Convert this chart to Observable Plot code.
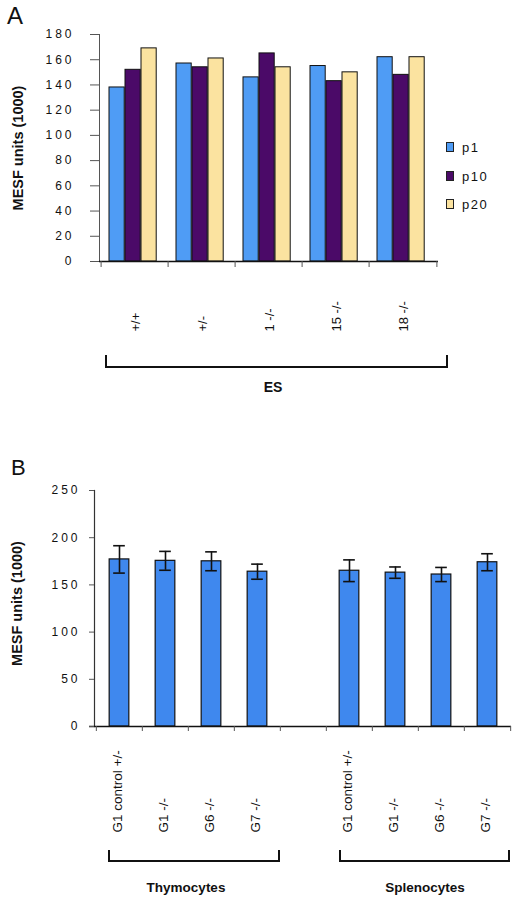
<!DOCTYPE html>
<html><head><meta charset="utf-8">
<script src="https://cdn.jsdelivr.net/npm/d3@7"></script>
<script src="https://cdn.jsdelivr.net/npm/@observablehq/plot@0.6"></script>
<style>
body{margin:0;background:#fff;font-family:"Liberation Sans",Arial,sans-serif;color:#111}
#root{position:relative;width:516px;height:899px;overflow:hidden;background:#fff}
.panel{position:absolute;left:0;font-family:"Liberation Sans",Arial,sans-serif;font-size:24px;line-height:1}
.bracket{position:absolute;border:2px solid #111;border-top:none;box-sizing:border-box}
.glabel{position:absolute;transform:translate(-50%,-50%);font-weight:bold;font-size:14px;white-space:nowrap}
.leg{position:absolute;display:flex;align-items:center;font-size:13px;letter-spacing:1.5px}
.leg span.sw{display:inline-block;width:8px;height:10px;border:1.5px solid #222;box-sizing:border-box;margin-right:8px}
.pa g[aria-label="y-axis tick label"] text,.pb g[aria-label="y-axis tick label"] text{letter-spacing:3px}
</style></head><body><div id="root"></div>
<script>
// ---------- Panel A data ----------
const aCategories = ["+/+", "+/-", "1 -/-", "15 -/-", "18 -/-"];
const aSeries = ["p1", "p10", "p20"];
const aP1 = [138, 157, 146, 155, 162];
const aP10 = [152, 154, 165, 143, 148];
const aP20 = [169, 161, 154, 150, 162];
const aTicks = [0, 20, 40, 60, 80, 100, 120, 140, 160, 180];
const aColors = ["#4f9cf5", "#4b0a68", "#fbe3a0"];
const aGroup = "ES";

// ---------- Panel B data ----------
const bGroups = ["Thymocytes", "Splenocytes"];
const bLabels = ["G1 control +/-", "G1 -/-", "G6 -/-", "G7 -/-"];
const bThymo = [177, 175.5, 175, 164];
const bThymoErr = [14.5, 10, 10, 8];
const bSpleno = [165, 163, 161, 174];
const bSplenoErr = [11.5, 6, 7.5, 9];
const bTicks = [0, 50, 100, 150, 200, 250];
const bColor = "#3f88ee";
const yLabel = "MESF units (1000)";

const root = document.getElementById("root");

// ---------- Panel A ----------
const aValues = [aP1, aP10, aP20];
const aRows = aSeries.flatMap((s, i) => aCategories.map((c, j) => ({cat: c, series: s, value: aValues[i][j]})));
const WA = 516, mlA = 99, mrA = 78, mtA = 34, mbA = 139, HA = 400;
const bwA = (WA - mlA - mrA) / aCategories.length;
const barW = 16, barOff = 8;
const plotA = Plot.plot({
  width: WA, height: HA, marginTop: mtA, marginBottom: mbA, marginLeft: mlA, marginRight: mrA,
  className: "pa",
  style: {fontFamily: "'Liberation Sans', Arial, sans-serif", fontSize: "12px", color: "#111", background: "transparent"},
  x: {domain: aCategories, padding: 0, axis: null},
  y: {domain: [0, 180], axis: null},
  marks: [
    ...aSeries.map((s, i) => Plot.barY(aRows.filter(r => r.series === s), {
      x: "cat", y: "value", fill: aColors[i], stroke: "#111", strokeWidth: 1,
      insetLeft: barOff + barW * i, insetRight: bwA - barOff - barW * (i + 1)
    })),
    Plot.frame({anchor: "left", stroke: "#555"}),
    Plot.ruleY([0], {stroke: "#111", strokeWidth: 1.5}),
    Plot.ruleX(aCategories, {x: d => d, dx: -bwA / 2, insetTop: HA - mtA - mbA, insetBottom: -6, stroke: "#555"}),
    Plot.ruleX([aCategories[aCategories.length - 1]], {x: d => d, dx: bwA / 2, insetTop: HA - mtA - mbA, insetBottom: -6, stroke: "#555"}),
    Plot.axisY(aTicks, {tickSize: 9, tickPadding: 16, fontSize: 12, stroke: "#555", label: null}),
    Plot.text(aCategories, {x: d => d, frameAnchor: "bottom", dy: 70, dx: 5, rotate: -90, textAnchor: "start", fontSize: 13, fill: "#111"}),
    Plot.text([yLabel], {frameAnchor: "left", dx: -81, rotate: -90, textAnchor: "middle", fontSize: 14.5, fontWeight: "bold", fill: "#111"})
  ]
});
plotA.style.position = "absolute"; plotA.style.left = "0px"; plotA.style.top = "0px";
root.appendChild(plotA);

// panel letter
const la = document.createElement("div"); la.className = "panel"; la.textContent = "A";
la.style.left = "7px"; la.style.top = "4px"; root.appendChild(la);

// legend
const legY = [147, 176, 204];
aSeries.forEach((s, i) => {
  const d = document.createElement("div"); d.className = "leg";
  d.style.left = "446px"; d.style.top = (legY[i] - 8) + "px"; d.style.height = "16px";
  const sw = document.createElement("span"); sw.className = "sw"; sw.style.background = aColors[i];
  d.appendChild(sw); d.appendChild(document.createTextNode(s));
  root.appendChild(d);
});

// bracket A
const brA = document.createElement("div"); brA.className = "bracket";
Object.assign(brA.style, {left: "105px", top: "355px", width: "343px", height: "13px"});
root.appendChild(brA);
const gA = document.createElement("div"); gA.className = "glabel"; gA.textContent = aGroup;
Object.assign(gA.style, {left: "273px", top: "387px"});
root.appendChild(gA);

// ---------- Panel B ----------
const bRows = [];
bLabels.forEach((l, j) => bRows.push({key: bGroups[0] + "|" + l, label: l, value: bThymo[j], err: bThymoErr[j]}));
bLabels.forEach((l, j) => bRows.push({key: bGroups[1] + "|" + l, label: l, value: bSpleno[j], err: bSplenoErr[j]}));
const bDomain = [...bRows.slice(0, 4).map(r => r.key), "gap", ...bRows.slice(4).map(r => r.key)];
const WB = 516, mlB = 94, mrB = 5, mtB = 40, mbB = 173, HB = 449;
const bwB = (WB - mlB - mrB) / bDomain.length;
const bBarW = 20, capW = 12;
const plotB = Plot.plot({
  width: WB, height: HB, marginTop: mtB, marginBottom: mbB, marginLeft: mlB, marginRight: mrB,
  className: "pb",
  style: {fontFamily: "'Liberation Sans', Arial, sans-serif", fontSize: "12px", color: "#111", background: "transparent"},
  x: {domain: bDomain, padding: 0, axis: null},
  y: {domain: [0, 250], axis: null},
  marks: [
    Plot.barY(bRows, {x: "key", y: "value", fill: bColor, stroke: "#111", strokeWidth: 1.2,
      insetLeft: (bwB - bBarW) / 2, insetRight: (bwB - bBarW) / 2}),
    Plot.ruleX(bRows, {x: "key", y1: d => d.value - d.err, y2: d => d.value + d.err, stroke: "#111", strokeWidth: 1.6}),
    Plot.tickY(bRows, {x: "key", y: d => d.value + d.err, stroke: "#111", strokeWidth: 1.6, insetLeft: (bwB - capW) / 2, insetRight: (bwB - capW) / 2}),
    Plot.tickY(bRows, {x: "key", y: d => d.value - d.err, stroke: "#111", strokeWidth: 1.6, insetLeft: (bwB - capW) / 2, insetRight: (bwB - capW) / 2}),
    Plot.frame({anchor: "left", stroke: "#333", strokeWidth: 1.2}),
    Plot.ruleY([0], {stroke: "#111", strokeWidth: 1.5, insetLeft: -5}),
    Plot.ruleX(bDomain, {x: d => d, dx: -bwB / 2, insetTop: HB - mtB - mbB, insetBottom: -5, stroke: "#555"}),
    Plot.ruleX([bDomain[bDomain.length - 1]], {x: d => d, dx: bwB / 2, insetTop: HB - mtB - mbB, insetBottom: -5, stroke: "#555"}),
    Plot.axisY(bTicks, {tickSize: 5, tickPadding: 9, fontSize: 12, stroke: "#555", label: null}),
    Plot.text(bRows, {x: "key", text: "label", frameAnchor: "bottom", dy: 106, dx: 2, rotate: -90, textAnchor: "start", fontSize: 13.5, fill: "#111"}),
    Plot.text([yLabel], {frameAnchor: "left", dx: -77, dy: -5, rotate: -90, textAnchor: "middle", fontSize: 14.5, fontWeight: "bold", fill: "#111"})
  ]
});
plotB.style.position = "absolute"; plotB.style.left = "0px"; plotB.style.top = "450px";
root.appendChild(plotB);

const lb = document.createElement("div"); lb.className = "panel"; lb.textContent = "B";
lb.style.left = "11px"; lb.style.top = "457px"; lb.style.fontSize = "22px"; root.appendChild(lb);

// brackets B
const brB = [[108, 172, 186], [339, 171, 425]];
bGroups.forEach((g, i) => {
  const br = document.createElement("div"); br.className = "bracket";
  Object.assign(br.style, {left: brB[i][0] + "px", top: "850px", width: brB[i][1] + "px", height: "12px"});
  root.appendChild(br);
  const t = document.createElement("div"); t.className = "glabel"; t.textContent = g;
  Object.assign(t.style, {left: brB[i][2] + "px", top: "887px", fontSize: "13.5px"});
  root.appendChild(t);
});
</script></body></html>
